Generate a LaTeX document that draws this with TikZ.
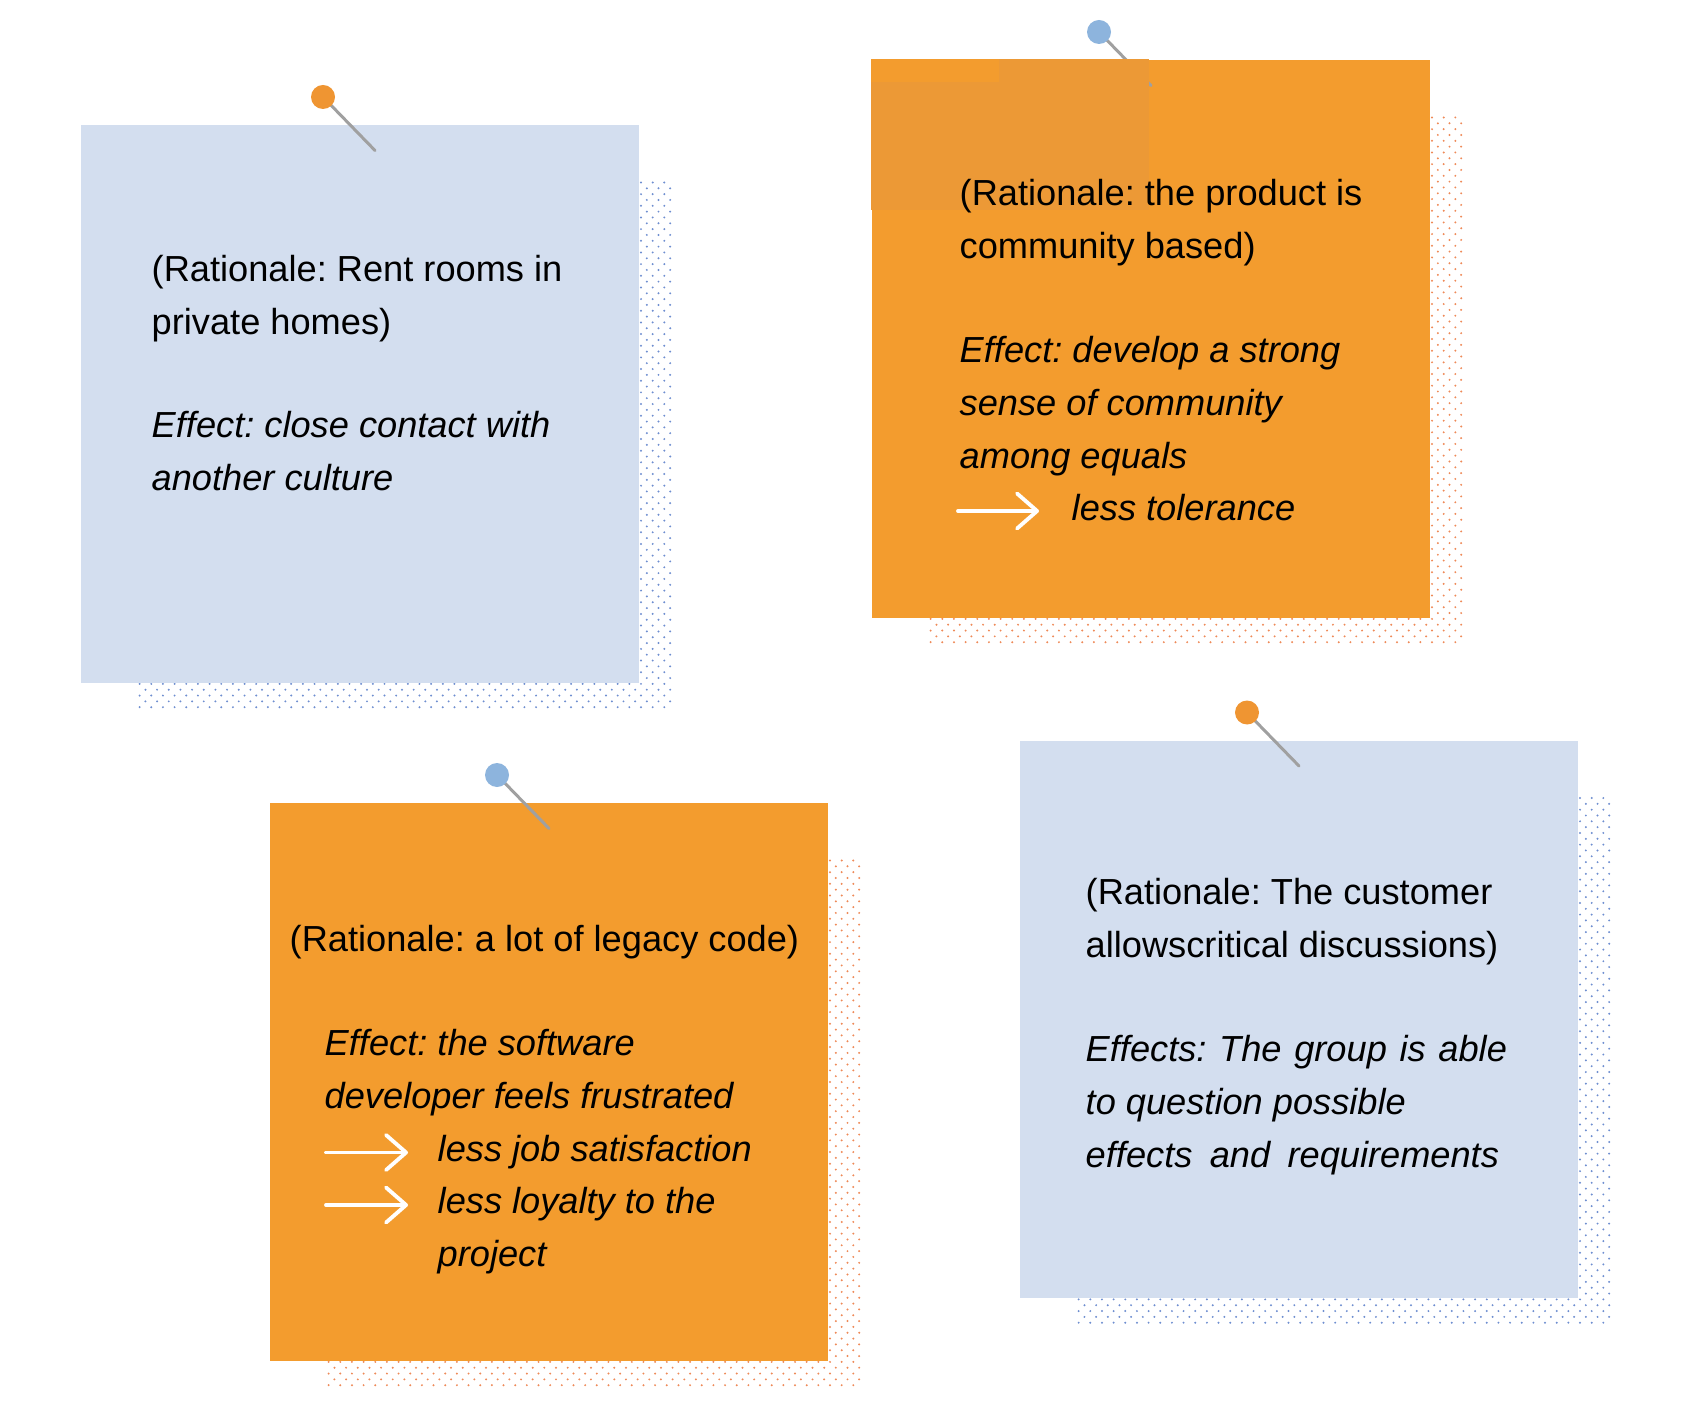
\documentclass[tikz,border=0pt]{standalone}
\usepackage{fontspec}
\setmainfont{Liberation Sans}
\frenchspacing
\usetikzlibrary{arrows.meta,calc}
\definecolor{notebl}{RGB}{211,222,239}
\definecolor{noteor}{RGB}{243,156,46}
\definecolor{noteordk}{RGB}{236,153,54}
\definecolor{pinor}{RGB}{239,149,50}
\definecolor{pinbl}{RGB}{141,180,221}
\definecolor{needlegray}{RGB}{160,160,160}
\definecolor{dotbl}{RGB}{110,142,208}
\definecolor{dotor}{RGB}{238,138,88}
\tikzset{
  note/.style={anchor=north west,inner sep=0pt,minimum width=5.58cm,minimum height=5.57cm},
  txt/.style={anchor=base west,inner sep=0pt,align=left,font=\fontsize{10.3pt}{15pt}\selectfont},
  efftxt/.style={txt,font=\fontsize{10.3pt}{15pt}\selectfont\itshape},
  needle/.style={draw=needlegray,line width=0.85pt,line cap=round},
  warr/.style={draw=white,line width=1.1pt,line cap=round,-{Straight Barb[length=0.2cm,width=0.35cm,round]}}
}
\begin{document}
\begin{tikzpicture}[x=0.01cm,y=-0.01cm]
  \useasboundingbox (0,0) rectangle (1689,1413);

  % Notes with dotted shadow and pin
  \foreach \nx/\ny/\nc/\dc/\pc/\pinx [count=\nn] in {80/124.5/notebl/dotbl/pinor/243, 871/59.5/noteor/dotor/pinbl/228, 269/802.5/noteor/dotor/pinbl/228, 1019/740/notebl/dotbl/pinor/228} {
    % right strip of dots
    \foreach \j in {0,...,85} \foreach \i in {0,1,2}
      \fill[\dc] ({\nx+561+11.66*\i+5.83*mod(\j,2)},{\ny+58+5.83*\j}) circle (1.1);
    % bottom strip of dots
    \foreach \j in {86,...,90} \foreach \i in {-43,...,2}
      \fill[\dc] ({\nx+561+11.66*\i+5.83*mod(\j,2)},{\ny+58+5.83*\j}) circle (1.1);
    \node[note,fill=\nc] (note\nn) at (\nx,\ny) {};
    \coordinate (head\nn) at ($(note\nn.north west)+(\pinx,-27.5)$);
    \coordinate (tip\nn) at ($(head\nn)+(52,53.5)$);
    \draw[needle] (head\nn) -- (tip\nn);
    \fill[\pc] (head\nn) circle (12);
  }
  % darker patch on second note
  \fill[noteordk] (871,59.5) rectangle (1149,210);
  \fill[noteor] (871,59.5) rectangle (999,82);

  % Note 1 (multi-line nodes sit on their last baseline)
  \node[txt] (rat1) at (151,334.7) {(Rationale: Rent rooms in\\private homes)};
  \node[efftxt] (eff1) at (151,490.7) {Effect: close contact with\\another culture};

  % Note 2
  \node[txt] (rat2) at (959,258.7) {(Rationale: the product is\\community based)};
  \node[efftxt] (eff2) at (959,468.4) {Effect: develop a strong\\sense of community\\among equals};
  \node[efftxt] (tol2) at (1071,520) {less tolerance};
  \coordinate (a2s) at (958,511);
  \coordinate (a2e) at (1039,511);
  \draw[warr] (a2s) -- (a2e);

  % Note 3
  \node[txt] (rat3) at (289,951) {(Rationale: a lot of legacy code)};
  \node[efftxt] (eff3) at (324,1108.7) {Effect: the software\\developer feels frustrated};
  \node[efftxt] (job3) at (437,1161) {less job satisfaction};
  \node[efftxt] (loy3) at (437,1266.2) {less loyalty to the\\project};
  \coordinate (a3s) at (326,1152.5);
  \coordinate (a3e) at (408,1152.5);
  \coordinate (a4s) at (326,1205);
  \coordinate (a4e) at (408,1205);
  \draw[warr] (a3s) -- (a3e);
  \draw[warr] (a4s) -- (a4e);

  % Note 4
  \node[txt] (rat4) at (1085,957.7) {(Rationale: The customer\\allowscritical discussions)};
  \node[efftxt] (eff4) at (1085,1167.4) {\makebox[4.21cm][s]{Effects: The group is able}\\to question possible\\\makebox[4.13cm][s]{effects and requirements}};
\end{tikzpicture}
\end{document}
